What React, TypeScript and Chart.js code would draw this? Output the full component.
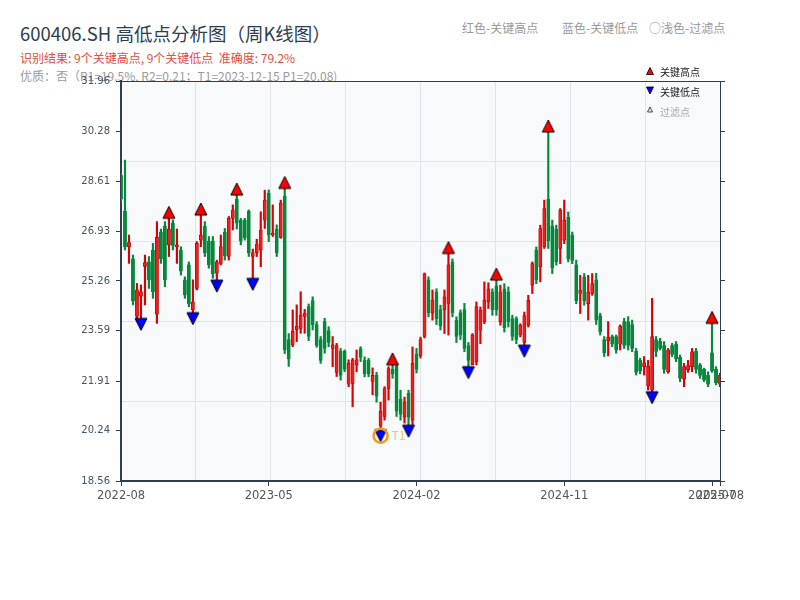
import React, { useEffect, useRef } from 'react';
import { Chart, registerables } from 'chart.js';

Chart.register(...registerables);

// ---------------- data (weekly candles, index 0 = 2022-08 week) ----------------
const OPEN = [
  28.8, 27.6, 26.4, 26.0, 24.07, 24.75, 25.75, 25.9, 26.3, 24.15,
  26.9, 27.1, 26.47, 27.2, 26.4, 26.3, 25.3, 25.8, 24.3, 25.01,
  26.63, 27.1, 26.6, 26.6, 25.52, 25.85, 26.9, 26.08, 27.36, 28.0,
  27.3, 27.3, 27.6, 26.08, 26.2, 26.3, 27.3, 28.2, 26.8, 27.0,
  26.72, 28.1, 23.3, 23.12, 23.63, 23.67, 24.07, 24.4, 24.6, 23.8,
  23.3, 23.9, 23.6, 23.0, 22.2, 22.9, 22.9, 21.8, 21.83, 22.45,
  23.0, 22.6, 22.6, 21.9, 22.1, 20.4, 20.72, 21.66, 22.3, 22.4,
  21.3, 20.7, 21.5, 20.6, 22.8, 22.75, 23.4, 25.3, 24.18, 24.9,
  24.3, 24.29, 24.51, 25.9, 23.95, 24.2, 24.3, 23.1, 22.45, 22.55,
  23.61, 23.89, 24.56, 24.9, 25.1, 23.9, 25.0, 24.9, 24.0, 24.0,
  23.45, 23.2, 23.78, 25.12, 26.3, 25.73, 26.4, 28.0, 27.1, 27.0,
  26.35, 26.63, 27.4, 26.8, 25.8, 24.84, 25.4, 24.5, 24.84, 25.3,
  24.1, 23.3, 23.26, 23.4, 23.4, 23.14, 23.9, 23.9, 23.8, 22.9,
  22.6, 22.39, 21.75, 21.6, 23.3, 23.25, 23.1, 22.22, 23.1, 23.15,
  22.7, 21.97, 22.28, 22.39, 22.9, 22.45, 22.3, 22.1, 22.85, 22.3,
  21.8,
];
const HIGH = [
  28.87, 29.31, 26.8, 26.13, 25.18, 25.13, 26.13, 26.08, 26.52, 27.25,
  27.0, 27.25, 27.36, 27.3, 27.0, 26.41, 25.4, 25.9, 25.3, 26.58,
  27.47, 27.25, 26.75, 26.75, 25.96, 26.8, 27.02, 27.42, 27.81, 28.14,
  27.36, 27.36, 27.64, 26.33, 26.66, 27.58, 28.3, 28.31, 27.81, 27.14,
  27.97, 28.36, 23.5, 24.29, 24.46, 24.9, 24.31, 24.49, 24.73, 23.9,
  23.4, 24.01, 23.73, 23.4, 23.17, 23.0, 22.95, 22.62, 22.67, 22.95,
  23.06, 22.72, 22.67, 22.35, 22.2, 21.2, 21.72, 22.39, 22.45, 22.44,
  21.6, 21.37, 21.6, 23.05, 23.0, 23.38, 25.53, 25.4, 24.96, 25.0,
  24.45, 24.96, 26.18, 26.0, 24.06, 24.29, 24.51, 23.2, 23.5, 24.56,
  24.39, 25.23, 25.2, 25.0, 25.29, 25.12, 25.17, 25.06, 24.11, 24.06,
  23.83, 24.22, 24.78, 25.9, 26.4, 27.13, 27.97, 30.25, 27.3, 27.13,
  27.69, 27.97, 27.57, 26.9, 25.96, 25.45, 25.51, 25.45, 25.51, 25.52,
  24.18, 23.4, 23.9, 23.45, 23.45, 23.79, 24.01, 24.07, 23.95, 23.0,
  22.67, 22.73, 22.6, 24.68, 23.4, 23.34, 23.23, 23.0, 23.17, 23.23,
  22.78, 22.5, 22.6, 23.0, 23.0, 22.5, 22.34, 22.22, 23.84, 22.39,
  22.17,
];
const LOW = [
  27.92, 26.3, 25.85, 24.46, 23.9, 24.01, 24.46, 25.01, 24.68, 23.84,
  25.85, 25.07, 26.08, 26.3, 25.85, 25.46, 24.68, 24.4, 24.2, 24.96,
  26.41, 26.08, 25.69, 25.35, 25.29, 25.8, 25.96, 25.96, 26.97, 27.0,
  26.47, 26.63, 26.08, 25.35, 26.08, 25.74, 27.02, 26.58, 26.75, 26.08,
  26.69, 22.83, 22.4, 23.06, 23.23, 23.51, 23.51, 23.26, 23.62, 23.04,
  22.5, 22.84, 23.06, 22.39, 22.06, 21.94, 22.22, 21.72, 21.05, 22.22,
  22.56, 22.05, 22.05, 21.45, 21.2, 20.28, 20.6, 21.27, 22.0, 20.72,
  20.6, 20.5, 20.43, 20.45, 22.18, 22.68, 23.35, 24.06, 23.95, 23.8,
  23.62, 23.5, 23.45, 24.06, 23.2, 23.3, 22.89, 22.39, 22.45, 22.45,
  23.16, 23.83, 24.34, 24.11, 24.11, 23.78, 23.55, 23.72, 23.27, 23.16,
  23.39, 23.11, 23.72, 24.84, 25.17, 25.23, 26.35, 26.35, 25.51, 25.79,
  25.84, 26.51, 25.9, 25.84, 24.5, 24.17, 24.45, 23.95, 24.78, 23.8,
  23.45, 22.73, 22.75, 23.06, 22.84, 22.95, 23.0, 22.95, 22.89, 22.11,
  22.15, 22.11, 21.61, 21.55, 22.73, 22.95, 22.17, 22.17, 22.73, 22.56,
  21.89, 21.72, 22.2, 22.22, 22.17, 22.0, 21.89, 21.72, 22.2, 21.78,
  21.72,
];
const CLOSE = [
  28.0, 26.4, 26.55, 24.6, 24.96, 24.9, 25.88, 25.3, 24.9, 26.72,
  26.0, 25.3, 27.0, 26.45, 26.47, 25.6, 24.8, 24.5, 24.55, 26.52,
  26.8, 26.2, 25.8, 25.5, 25.9, 26.41, 26.1, 27.36, 27.64, 27.2,
  26.6, 26.7, 26.2, 26.2, 26.5, 26.97, 27.97, 26.8, 26.86, 26.2,
  27.88, 22.95, 22.65, 23.57, 23.74, 24.12, 24.18, 23.4, 23.8, 23.1,
  22.6, 23.0, 23.2, 23.12, 23.1, 22.1, 22.3, 22.5, 22.62, 22.62,
  22.7, 22.15, 22.15, 22.1, 21.4, 20.9, 21.66, 22.33, 22.15, 20.9,
  20.8, 21.2, 20.7, 22.5, 22.3, 23.3, 25.5, 24.2, 24.62, 24.0,
  23.75, 24.73, 25.8, 24.2, 23.4, 23.45, 23.0, 22.6, 23.45, 24.4,
  24.28, 24.62, 25.0, 24.3, 24.3, 24.9, 23.7, 23.9, 23.4, 23.3,
  23.78, 24.1, 24.61, 25.84, 25.3, 27.02, 27.69, 26.6, 25.7, 25.9,
  27.63, 27.3, 26.0, 25.95, 24.6, 24.95, 24.6, 24.89, 25.17, 23.95,
  23.55, 22.85, 23.37, 23.15, 22.95, 23.75, 23.1, 23.1, 23.0, 22.2,
  22.25, 22.52, 22.4, 23.4, 22.9, 23.0, 22.3, 22.95, 22.8, 22.65,
  22.0, 22.39, 22.43, 22.89, 22.3, 22.1, 21.95, 21.8, 22.25, 21.85,
  22.1,
];

const X_TICK_INDEX = [0, 37, 74, 111, 148, 150];
const X_TICK_LABELS = ['2022-08', '2023-05', '2024-02', '2024-11', '2025-07', '2025-08'];
const Y_TICKS = [18.56, 20.24, 21.91, 23.59, 25.26, 26.93, 28.61, 30.28, 31.96];

const KEY_HIGH_IDX = [12, 20, 29, 41, 68, 82, 94, 107, 148];
const KEY_LOW_IDX = [5, 18, 24, 33, 65, 72, 87, 101, 133];
const T1_INDEX = 65;
const T1_PRICE = 20.08;
const T1_LABEL = 'T1';

const TITLE = '600406.SH 高低点分析图（周K线图）';
const SUBTITLE = '识别结果: 9个关键高点, 9个关键低点  准确度: 79.2%';
const QUALITY = '优质：否（R1=19.5%, R2=0.21；T1=2023-12-15 P1=20.08)';
const HEADER_KEYS = ['红色-关键高点', '蓝色-关键低点', '○浅色-过滤点'];
const LEGEND_LABELS = ['关键高点', '关键低点', '过滤点'];

const GRID_COLS = 8;
const GRID_ROWS = 5;

// ---------------- styles ----------------
const FONT = '"Noto Sans CJK SC", "Noto Sans", sans-serif';
const FRAME = '#2c3e50';
const GRID = '#e1e5eb';
const PLOT_BG = '#f7f9fb';
const RED_FILL = '#f21c1c';
const RED_EDGE = '#b50000';
const RED_WICK = '#d80000';
const GREEN = '#06883a';

function makeTriangle(fill: string, up: boolean, size: number): HTMLCanvasElement {
  const W = size + 4;
  const c = document.createElement('canvas');
  c.width = W;
  c.height = W * 2;
  const ctx = c.getContext('2d')!;
  const cx = W / 2;
  const base = W;
  ctx.beginPath();
  if (up) {
    ctx.moveTo(cx, base - size);
  } else {
    ctx.moveTo(cx, base + size);
  }
  ctx.lineTo(cx + size / 2, base);
  ctx.lineTo(cx - size / 2, base);
  ctx.closePath();
  ctx.fillStyle = fill;
  ctx.fill();
  ctx.lineWidth = 1;
  ctx.strokeStyle = '#000';
  ctx.stroke();
  return c;
}

function drawLegendTri(ctx: CanvasRenderingContext2D, x: number, y: number, s: number, up: boolean, fill: string, lw: number) {
  ctx.beginPath();
  if (up) {
    ctx.moveTo(x, y - s / 2);
    ctx.lineTo(x + s / 2, y + s / 2);
    ctx.lineTo(x - s / 2, y + s / 2);
  } else {
    ctx.moveTo(x, y + s / 2);
    ctx.lineTo(x + s / 2, y - s / 2);
    ctx.lineTo(x - s / 2, y - s / 2);
  }
  ctx.closePath();
  ctx.fillStyle = fill;
  ctx.fill();
  ctx.lineWidth = lw;
  ctx.strokeStyle = '#000';
  ctx.stroke();
}

const decorPlugin = {
  id: 'decor',
  beforeDraw(chart: any) {
    const { ctx, chartArea: a } = chart;
    ctx.save();
    ctx.fillStyle = PLOT_BG;
    ctx.fillRect(a.left, a.top, a.right - a.left, a.bottom - a.top);
    ctx.restore();
  },
  afterDraw(chart: any) {
    const { ctx, chartArea: a } = chart;
    const xs = chart.scales.x;
    const ys = chart.scales.y;
    ctx.save();
    // T1 label
    ctx.font = `12px ${FONT}`;
    ctx.fillStyle = 'rgba(243,156,18,0.6)';
    ctx.textBaseline = 'middle';
    ctx.textAlign = 'left';
    ctx.fillText(T1_LABEL, xs.getPixelForValue(T1_INDEX) + 11, ys.getPixelForValue(T1_PRICE));

    // legend (top right)
    const ix = a.right - 70;
    const tx = a.right - 60;
    const rows = [a.top - 10, a.top + 9.5, a.top + 28.5];
    drawLegendTri(ctx, ix, rows[0], 7, true, '#ff0000', 0.8);
    drawLegendTri(ctx, ix, rows[1], 7, false, '#0000ff', 0.8);
    drawLegendTri(ctx, ix, rows[2], 5, true, '#fde3e3', 0.7);
    ctx.font = `10px ${FONT}`;
    ctx.fillStyle = '#1a1a1a';
    ctx.fillText(LEGEND_LABELS[0], tx, rows[0] + 1.5);
    ctx.fillText(LEGEND_LABELS[1], tx, rows[1] + 2);
    ctx.fillStyle = '#a8a8a8';
    ctx.fillText(LEGEND_LABELS[2], tx, rows[2] + 2.5);
    ctx.restore();
  },
};

export default function App() {
  const ref = useRef<HTMLCanvasElement | null>(null);

  useEffect(() => {
    if (!ref.current) return;
    const idx = OPEN.map((_, i) => i);
    const up = idx.map((i) => CLOSE[i] >= OPEN[i]);

    const upImg = makeTriangle('#ff0000', true, 12);
    const downImg = makeTriangle('#0000ff', false, 12);

    const chart = new Chart(ref.current, {
      type: 'bar',
      data: {
        datasets: [
          {
            type: 'scatter',
            label: 'T1',
            data: [{ x: T1_INDEX, y: T1_PRICE }],
            pointStyle: 'circle',
            pointRadius: 7,
            pointBorderWidth: 2.5,
            pointBorderColor: '#f39c12',
            pointBackgroundColor: 'rgba(0,0,0,0)',
            order: 0,
            clip: false,
          } as any,
          {
            type: 'scatter',
            label: '关键高点',
            data: KEY_HIGH_IDX.map((i) => ({ x: i, y: HIGH[i] })),
            pointStyle: upImg,
            pointRadius: 6,
            order: 1,
            clip: false,
          } as any,
          {
            type: 'scatter',
            label: '关键低点',
            data: KEY_LOW_IDX.map((i) => ({ x: i, y: LOW[i] })),
            pointStyle: downImg,
            pointRadius: 6,
            order: 1,
            clip: false,
          } as any,
          {
            type: 'bar',
            label: 'body',
            data: idx.map((i) => ({ x: i, y: [OPEN[i], CLOSE[i]] })),
            backgroundColor: idx.map((i) => (up[i] ? RED_FILL : GREEN)),
            borderColor: idx.map((i) => (up[i] ? RED_EDGE : GREEN)),
            borderWidth: 0.7,
            borderSkipped: false,
            barThickness: 3.2,
            minBarLength: 1.2,
            grouped: false,
            order: 2,
          } as any,
          {
            type: 'bar',
            label: 'wick',
            data: idx.map((i) => ({ x: i, y: [LOW[i], HIGH[i]] })),
            backgroundColor: idx.map((i) => (up[i] ? RED_WICK : GREEN)),
            borderWidth: 0,
            barThickness: 1.5,
            grouped: false,
            order: 3,
          } as any,
        ],
      },
      options: {
        animation: false,
        responsive: false,
        maintainAspectRatio: false,
        events: [],
        layout: { padding: { top: 81, left: 0, right: 0, bottom: 0 } },
        plugins: {
          legend: { display: false },
          tooltip: { enabled: false },
          title: { display: false },
        },
        scales: {
          x: {
            type: 'linear',
            position: 'bottom',
            min: 0,
            max: 150,
            offset: false,
            afterBuildTicks: (s: any) => {
              s.ticks = X_TICK_INDEX.map((v) => ({ value: v }));
            },
            afterFit: (s: any) => {
              s.height = 119;
            },
            ticks: {
              autoSkip: false,
              maxRotation: 0,
              minRotation: 0,
              padding: 3,
              color: '#555',
              font: { family: 'DejaVu Sans', size: 11.5 },
              callback: (_v: any, i: number) => X_TICK_LABELS[i],
            },
            grid: { drawOnChartArea: false, drawTicks: true, tickLength: 5, tickColor: FRAME, tickWidth: 1, offset: false },
            border: { display: true, color: FRAME, width: 2 },
          },
          y: {
            type: 'linear',
            position: 'left',
            min: Y_TICKS[0],
            max: Y_TICKS[Y_TICKS.length - 1],
            afterBuildTicks: (s: any) => {
              s.ticks = Y_TICKS.map((v) => ({ value: v }));
            },
            afterFit: (s: any) => {
              s.width = 121;
            },
            ticks: {
              padding: 6,
              color: '#46525f',
              font: { family: 'DejaVu Sans', size: 10 },
              callback: (v: any) => Number(v).toFixed(2),
            },
            grid: { drawOnChartArea: false, drawTicks: true, tickLength: 5, tickColor: FRAME, tickWidth: 1 },
            border: { display: true, color: FRAME, width: 2 },
          },
          y2: {
            type: 'linear',
            position: 'right',
            min: Y_TICKS[0],
            max: Y_TICKS[Y_TICKS.length - 1],
            afterBuildTicks: (s: any) => {
              s.ticks = Y_TICKS.map((v) => ({ value: v }));
            },
            afterFit: (s: any) => {
              s.width = 80;
            },
            ticks: { display: false },
            grid: { drawOnChartArea: false, drawTicks: true, tickLength: 5, tickColor: FRAME, tickWidth: 1 },
            border: { display: true, color: FRAME, width: 1 },
          },
          gx: {
            type: 'linear',
            position: 'top',
            min: 0,
            max: GRID_COLS,
            offset: false,
            afterBuildTicks: (s: any) => {
              s.ticks = Array.from({ length: GRID_COLS + 1 }, (_, k) => ({ value: k }));
            },
            afterFit: (s: any) => {
              s.height = 0;
            },
            ticks: { display: false },
            grid: { color: GRID, lineWidth: 1, drawTicks: false, offset: false },
            border: { display: true, color: FRAME, width: 1 },
          },
          gy: {
            type: 'linear',
            position: 'right',
            min: 0,
            max: GRID_ROWS,
            afterBuildTicks: (s: any) => {
              s.ticks = Array.from({ length: GRID_ROWS + 1 }, (_, k) => ({ value: k }));
            },
            afterFit: (s: any) => {
              s.width = 0;
            },
            ticks: { display: false },
            grid: { color: GRID, lineWidth: 1, drawTicks: false },
            border: { display: false },
          },
        },
      } as any,
      plugins: [decorPlugin],
    });
    return () => chart.destroy();
  }, []);

  const headerLeft = [462, 562, 649];

  return (
    <div style={{ position: 'fixed', left: 0, top: 0, width: 800, height: 600, background: '#fff', overflow: 'hidden', fontFamily: FONT }}>
      <div style={{ position: 'absolute', left: 20, top: 22, fontSize: 18.5, lineHeight: '22px', color: '#2c3e50', whiteSpace: 'nowrap' }}>{TITLE}</div>
      <div style={{ position: 'absolute', left: 20, top: 50, fontSize: 12, lineHeight: '16px', color: '#e74c3c', whiteSpace: 'pre' }}>{SUBTITLE}</div>
      <div style={{ position: 'absolute', left: 20, top: 68, fontSize: 12, lineHeight: '16px', color: '#9a9a9a', whiteSpace: 'pre' }}>{QUALITY}</div>
      {HEADER_KEYS.map((t, k) => (
        <div key={t} style={{ position: 'absolute', left: headerLeft[k], top: 20, fontSize: 12, lineHeight: '16px', color: '#9a9a9a', whiteSpace: 'nowrap' }}>{t}</div>
      ))}
      <canvas ref={ref} width={800} height={600} style={{ position: 'absolute', left: 0, top: 0, width: 800, height: 600, zIndex: 1 }} />
    </div>
  );
}
